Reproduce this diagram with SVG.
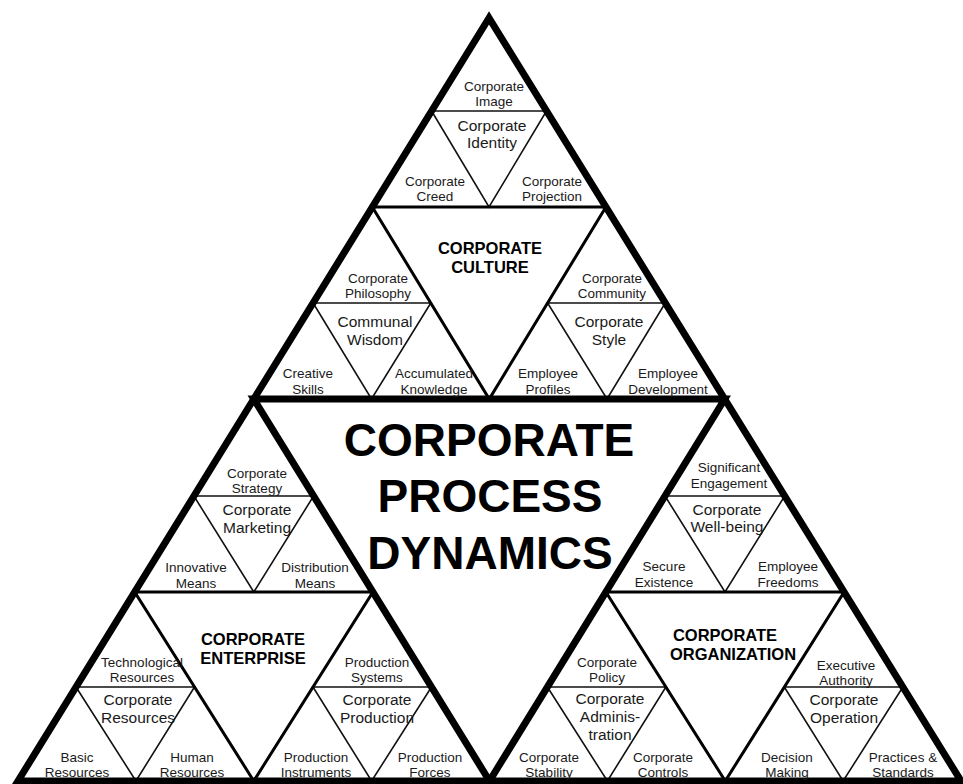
<svg xmlns="http://www.w3.org/2000/svg" width="963" height="784" viewBox="0 0 963 784">
<style>
.l1{fill:none;stroke:#000;stroke-width:7;stroke-linejoin:miter}
.l2{fill:none;stroke:#000;stroke-width:3;stroke-linejoin:miter}
.l3{fill:none;stroke:#111;stroke-width:1.6;stroke-linejoin:miter}
text{font-family:"Liberation Sans",Arial,Helvetica,sans-serif;text-anchor:middle;fill:#1a1a1a}
.s{font-size:13.5px}
.m{font-size:15.5px}
.b{font-size:16.5px;font-weight:bold;fill:#000}
.big{font-size:46px;font-weight:bold;fill:#000}
</style>
<rect width="963" height="784" fill="#fff"/>
<g id="connectors">
<polygon class="l3" points="431.6,111 546.5,111 489,207"/>
<polygon class="l3" points="313.1,303 430.8,303 371.5,399"/>
<polygon class="l3" points="547.6,303 665.3,303 607,399"/>
<polygon class="l3" points="193.9,496 313.6,496 253.8,592"/>
<polygon class="l3" points="76,687 194.5,687 135.9,781"/>
<polygon class="l3" points="313,687 431.5,687 371.6,781"/>
<polygon class="l3" points="665,496 784.7,496 725,592"/>
<polygon class="l3" points="547.4,687 665.9,687 607.4,781"/>
<polygon class="l3" points="784.3,687 902.9,687 843.1,781"/>
<polygon class="l2" points="372.3,207 605.9,207 489.25,399"/>
<polygon class="l2" points="134.7,592 372.9,592 253.75,781"/>
<polygon class="l2" points="605.9,592 844.1,592 725.25,781"/>
<polygon class="l1" points="489,18 18,781 961,781"/>
<polygon class="l1" points="253.8,399 724.7,399 489.5,781"/>
</g>
<g id="center"><text class="big" x="489" y="456">CORPORATE</text><text class="big" x="490" y="512">PROCESS</text><text class="big" x="490" y="569">DYNAMICS</text></g>
<g id="culture"><text class="b" x="490" y="254">CORPORATE</text><text class="b" x="490" y="273">CULTURE</text></g>
<g id="image"><text class="s" x="494" y="91">Corporate</text><text class="s" x="494" y="106">Image</text></g>
<g id="identity"><text class="m" x="492" y="131">Corporate</text><text class="m" x="492" y="148">Identity</text></g>
<g id="creed"><text class="s" x="435" y="186">Corporate</text><text class="s" x="435" y="201">Creed</text></g>
<g id="projection"><text class="s" x="552" y="186">Corporate</text><text class="s" x="552" y="201">Projection</text></g>
<g id="philosophy"><text class="s" x="378" y="283">Corporate</text><text class="s" x="378" y="298">Philosophy</text></g>
<g id="wisdom"><text class="m" x="375" y="327">Communal</text><text class="m" x="375" y="345">Wisdom</text></g>
<g id="skills"><text class="s" x="308" y="378">Creative</text><text class="s" x="308" y="394">Skills</text></g>
<g id="knowledge"><text class="s" x="434" y="378">Accumulated</text><text class="s" x="434" y="394">Knowledge</text></g>
<g id="community"><text class="s" x="612" y="283">Corporate</text><text class="s" x="612" y="298">Community</text></g>
<g id="style"><text class="m" x="609" y="327">Corporate</text><text class="m" x="609" y="345">Style</text></g>
<g id="profiles"><text class="s" x="548" y="378">Employee</text><text class="s" x="548" y="394">Profiles</text></g>
<g id="development"><text class="s" x="668" y="378">Employee</text><text class="s" x="668" y="394">Development</text></g>
<g id="enterprise"><text class="b" x="253" y="645">CORPORATE</text><text class="b" x="253" y="664">ENTERPRISE</text></g>
<g id="strategy"><text class="s" x="257" y="478">Corporate</text><text class="s" x="257" y="493">Strategy</text></g>
<g id="marketing"><text class="m" x="257" y="515">Corporate</text><text class="m" x="257" y="533">Marketing</text></g>
<g id="innovative"><text class="s" x="196" y="572">Innovative</text><text class="s" x="196" y="588">Means</text></g>
<g id="distribution"><text class="s" x="315" y="572">Distribution</text><text class="s" x="315" y="588">Means</text></g>
<g id="technological"><text class="s" x="142" y="667">Technological</text><text class="s" x="142" y="682">Resources</text></g>
<g id="resources"><text class="m" x="138" y="705">Corporate</text><text class="m" x="138" y="723">Resources</text></g>
<g id="basic"><text class="s" x="77" y="762">Basic</text><text class="s" x="77" y="777">Resources</text></g>
<g id="human"><text class="s" x="192" y="762">Human</text><text class="s" x="192" y="777">Resources</text></g>
<g id="systems"><text class="s" x="377" y="667">Production</text><text class="s" x="377" y="682">Systems</text></g>
<g id="production"><text class="m" x="377" y="705">Corporate</text><text class="m" x="377" y="723">Production</text></g>
<g id="instruments"><text class="s" x="316" y="762">Production</text><text class="s" x="316" y="777">Instruments</text></g>
<g id="forces"><text class="s" x="430" y="762">Production</text><text class="s" x="430" y="777">Forces</text></g>
<g id="organization"><text class="b" x="725" y="641">CORPORATE</text><text class="b" x="733" y="660">ORGANIZATION</text></g>
<g id="engagement"><text class="s" x="729" y="472">Significant</text><text class="s" x="729" y="488">Engagement</text></g>
<g id="wellbeing"><text class="m" x="727" y="515">Corporate</text><text class="m" x="727" y="532">Well-being</text></g>
<g id="secure"><text class="s" x="664" y="571">Secure</text><text class="s" x="664" y="587">Existence</text></g>
<g id="freedoms"><text class="s" x="788" y="571">Employee</text><text class="s" x="788" y="587">Freedoms</text></g>
<g id="policy"><text class="s" x="607" y="667">Corporate</text><text class="s" x="607" y="682">Policy</text></g>
<g id="administration"><text class="m" x="610" y="704">Corporate</text><text class="m" x="610" y="722">Adminis-</text><text class="m" x="610" y="740">tration</text></g>
<g id="stability"><text class="s" x="549" y="762">Corporate</text><text class="s" x="549" y="777">Stability</text></g>
<g id="controls"><text class="s" x="663" y="762">Corporate</text><text class="s" x="663" y="777">Controls</text></g>
<g id="authority"><text class="s" x="846" y="670">Executive</text><text class="s" x="846" y="685">Authority</text></g>
<g id="operation"><text class="m" x="844" y="705">Corporate</text><text class="m" x="844" y="723">Operation</text></g>
<g id="decision"><text class="s" x="787" y="762">Decision</text><text class="s" x="787" y="777">Making</text></g>
<g id="practices"><text class="s" x="903" y="762">Practices &amp;</text><text class="s" x="903" y="777">Standards</text></g>
</svg>
